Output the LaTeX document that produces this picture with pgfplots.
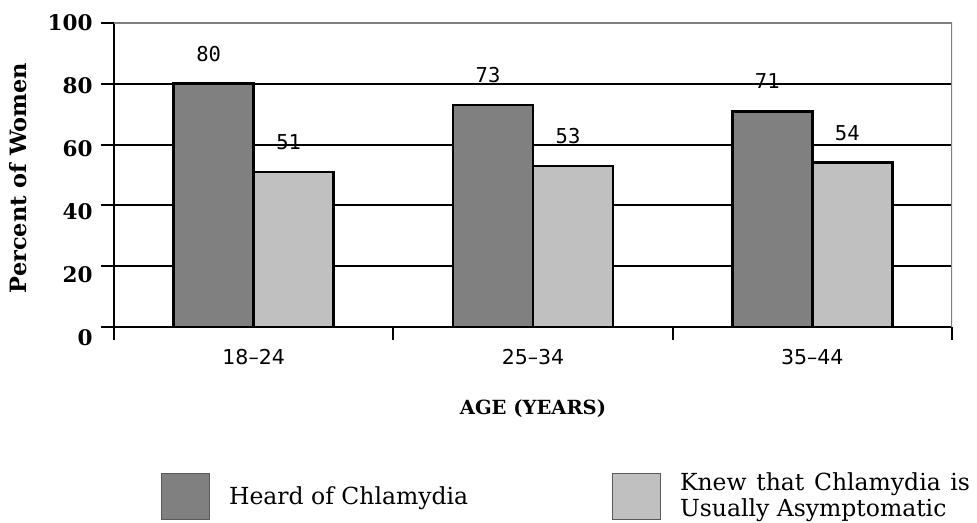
\documentclass[border=0pt]{standalone}
\usepackage{fontspec}
\setmainfont{DejaVu Serif}
\newfontfamily\labelmono{DejaVu Sans Mono}
\newfontfamily\ticksans{DejaVu Sans}
\usepackage{pgfplots}
\pgfplotsset{compat=1.18}
\definecolor{darkbar}{HTML}{808080}
\definecolor{lightbar}{HTML}{C0C0C0}
\definecolor{boxgray}{HTML}{808080}
\definecolor{keyedge}{HTML}{5A5A5A}

\begin{document}
\begin{tikzpicture}
\useasboundingbox (-114pt,-195pt) rectangle (863pt,327pt);
\begin{axis}[
  at={(0pt,0pt)}, anchor=south west,
  width=838pt, height=304pt, scale only axis,
  xmin=0, xmax=3, ymin=0, ymax=100,
  axis x line*=bottom, axis y line*=left,
  axis line style={-, black, line width=2.3pt},
  /pgf/number format/assume math mode=true,
  ytick={0,20,...,100},
  yticklabel style={font=\bfseries\fontsize{21.5}{24}\selectfont,
    xshift=-5pt, yshift={-(5-\ticknum)*2.2pt}},
  xtick={0,1,2,3}, xticklabels={},
  extra x ticks={0.5,1.5,2.5},
  extra x tick labels={18–24,25–34,35–44},
  extra x tick style={major tick length=0pt,
    xticklabel style={font=\ticksans\fontsize{20.5}{24}\selectfont, yshift=-19pt}},
  tick align=outside, major tick length=13pt,
  tick style={black, line width=2pt},
  ymajorgrids, grid style={black, line width=2pt},
  ybar=0pt, bar width=0.2864,
  nodes near coords,
  every node near coord/.append style={font=\labelmono\fontsize{20.5}{24}\selectfont,
    inner sep=0pt, anchor=south, yshift=21pt, xshift=-5pt, black},
  ylabel={Percent of Women},
  every axis y label/.style={at={(axis description cs:-0.1146,0.49)}, rotate=90,
    anchor=center, font=\bfseries\fontsize{22.5}{26}\selectfont},
  xlabel={AGE (YEARS)},
  every axis x label/.style={at={(axis description cs:0.5,-0.27)},
    anchor=center, font=\bfseries\fontsize{19.5}{24}\selectfont},
  legend style={at={(axis description cs:0.0561,-0.4803)}, anchor=north west,
    draw=none, fill=none, inner sep=0pt, outer sep=0pt,
    legend columns=2, nodes={inner sep=0pt},
    font=\fontsize{23.5}{24.5}\selectfont,
    /tikz/every odd column/.append style={column sep=19pt},
    /tikz/every even column/.append style={column sep=148pt}},
  legend cell align=left,
  legend image code/.code={\draw[#1, draw=keyedge, line width=1pt]
    (0pt,-23pt) rectangle (48pt,23pt);},
]
\addplot[fill=darkbar, draw=black, line width=2.7pt]
  coordinates {(0.5,80) (1.5,73) (2.5,71)};
\addlegendentry{\makebox[235pt][l]{Heard of Chlamydia}}
\addplot[fill=lightbar, draw=black, line width=2.7pt]
  coordinates {(0.5,51) (1.5,53) (2.5,54)};
\addlegendentry{\raisebox{14pt}{\begin{tabular}{@{}l@{}}\makebox[290pt][s]{Knew that Chlamydia is}\\Usually Asymptomatic\end{tabular}}}
\draw[boxgray, line width=2pt] (rel axis cs:0,1) -- (rel axis cs:1,1) -- (rel axis cs:1,0);
\end{axis}
\end{tikzpicture}
\end{document}
